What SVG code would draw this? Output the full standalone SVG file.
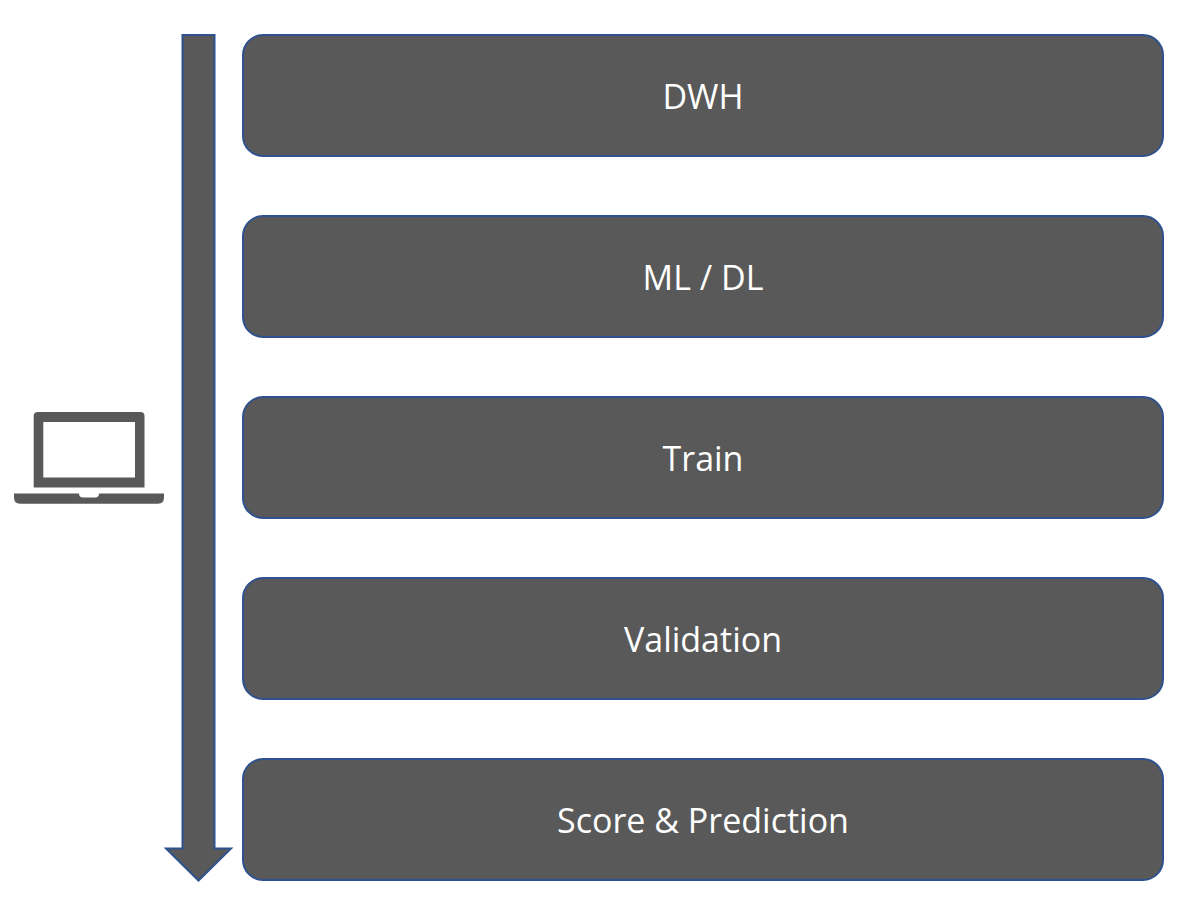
<svg xmlns="http://www.w3.org/2000/svg" width="1177" height="907" viewBox="0 0 1177 907">
<style>
.box{fill:#595959;stroke:#2f528f;stroke-width:2}
.lbl{font-family:"Open Sans","Noto Sans","Liberation Sans",sans-serif;font-size:34px;fill:#fff;text-anchor:middle}
</style>
<rect width="1177" height="907" fill="#fff"/>
<g id="connectors">
<path class="box" d="M182.500 35H214.500V848.500H231L198.500 880.500L166 848.500H182.500Z"/>
</g>
<g id="laptop">
<path fill="#595959" fill-rule="evenodd" d="M38 412H140.500Q144.500 412 144.500 416V487.500H33.700V416Q33.700 412 38 412ZM43.300 422V477.500H135V422Z"/>
<path fill="#595959" d="M14 493.500H79Q79 497.500 83 497.500H95Q99 497.500 99 493.500H164V497.500Q164 503.700 158 503.700H20Q14 503.700 14 497.500Z"/>
</g>
<g id="dwh"><rect class="box" x="243" y="35" width="920" height="121" rx="20"/><text class="lbl" x="703" y="108.500">DWH</text></g>
<g id="ml-dl"><rect class="box" x="243" y="216" width="920" height="121" rx="20"/><text class="lbl" x="703" y="289.500">ML / DL</text></g>
<g id="train"><rect class="box" x="243" y="397" width="920" height="121" rx="20"/><text class="lbl" x="703" y="470.500">Train</text></g>
<g id="validation"><rect class="box" x="243" y="578" width="920" height="121" rx="20"/><text class="lbl" x="703" y="651.500">Validation</text></g>
<g id="score"><rect class="box" x="243" y="759" width="920" height="121" rx="20"/><text class="lbl" x="703" y="832.500">Score &amp; Prediction</text></g>
</svg>
